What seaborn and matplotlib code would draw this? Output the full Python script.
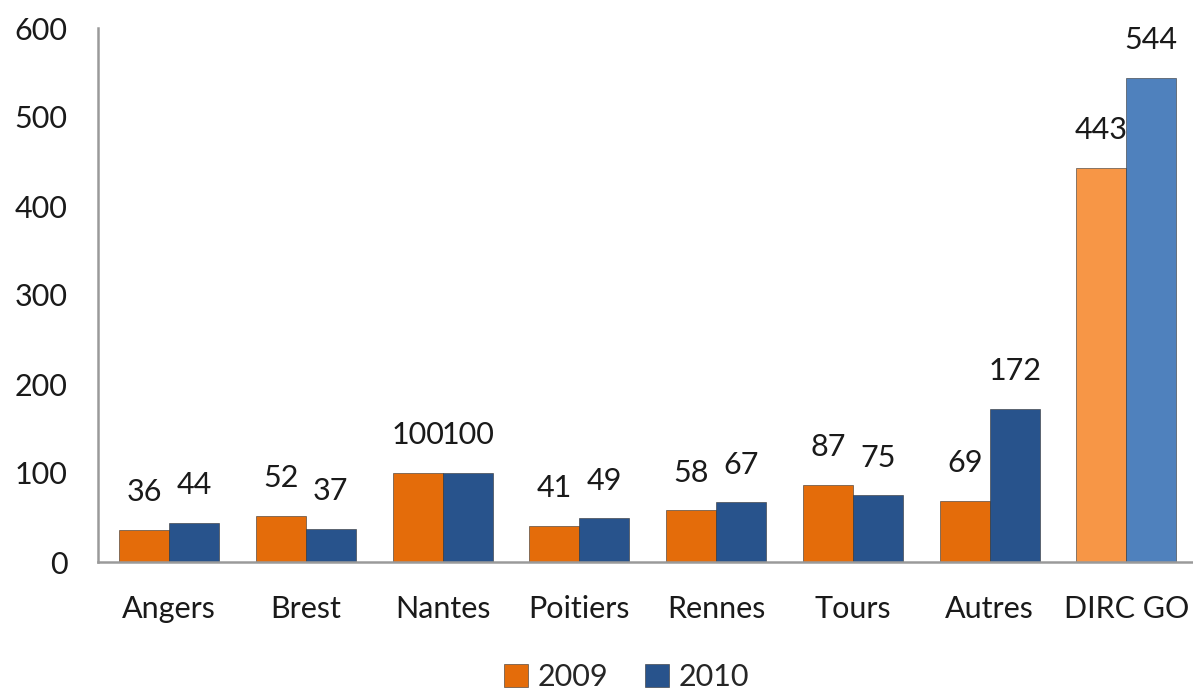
import pandas as pd
import numpy as np
import matplotlib
matplotlib.use("Agg")
import matplotlib.pyplot as plt
import seaborn as sns

categories = ["Angers", "Brest", "Nantes", "Poitiers", "Rennes", "Tours", "Autres", "DIRC GO"]
values_2009 = [36, 52, 100, 41, 58, 87, 69, 443]
values_2010 = [44, 37, 100, 49, 67, 75, 172, 544]
years = ["2009", "2010"]

colors = {"2009": "#E46C0A", "2010": "#28538C"}
light_colors = {"2009": "#F79646", "2010": "#4F81BD"}

data = pd.DataFrame({
    "ville": categories * 2,
    "annee": [years[0]] * len(categories) + [years[1]] * len(categories),
    "valeur": values_2009 + values_2010,
})

sns.set_style("white")
plt.rcParams["font.family"] = ["Lato", "DejaVu Sans"]

fig = plt.figure(figsize=(11.93, 6.94), dpi=100)
ax = fig.add_axes([98 / 1193, 132 / 694, 1094 / 1193, 534 / 694])

sns.barplot(data=data, x="ville", y="valeur", hue="annee", order=categories,
            hue_order=years, palette=colors, saturation=1, width=0.73, gap=0, ax=ax,
            edgecolor="#333333", linewidth=0.4, legend=False)

# lighter shade for the total group
for container, year in zip(ax.containers, years):
    container.patches[-1].set_facecolor(light_colors[year])
    ax.bar_label(container, labels=[f"{v:.0f}" for v in container.datavalues],
                 padding=17, fontsize=22, color="#1a1a1a")

ax.set_xlim(-0.52, 7.48)
ax.set_ylim(0, 600)
ax.set_yticks(range(0, 601, 100))
ax.set_xlabel("")
ax.set_ylabel("")
ax.tick_params(axis="both", length=0, labelsize=22, colors="#1a1a1a")
ax.tick_params(axis="x", pad=24)
ax.tick_params(axis="y", pad=22)

for side in ["top", "right"]:
    ax.spines[side].set_visible(False)
for side in ["left", "bottom"]:
    ax.spines[side].set_color("#9a9a9a")
    ax.spines[side].set_linewidth(1.8)

handles = [plt.Rectangle((0, 0), 1, 1, facecolor=colors[y], edgecolor="#333333", linewidth=0.4) for y in years]
fig.legend(handles, years, loc="lower center", bbox_to_anchor=(0.525, 0.0), ncol=2,
           frameon=False, fontsize=22, handlelength=0.8, handleheight=0.8,
           handletextpad=0.3, columnspacing=1.2, borderpad=0.1, borderaxespad=0)

fig.savefig("out.png", dpi=100)
